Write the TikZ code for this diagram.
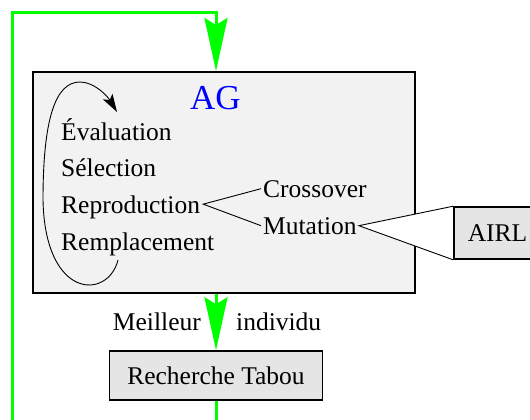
\documentclass[tikz,border=0pt]{standalone}
\usepackage{fontspec}
\setmainfont{Liberation Serif}
\usetikzlibrary{arrows.meta,calc}
\definecolor{boxgray}{HTML}{F2F2F2}
\definecolor{stepgray}{HTML}{E5E5E5}
\definecolor{loopgreen}{HTML}{00FF00}
\tikzset{
  txt/.style={inner sep=2pt, anchor=base west, font=\fontsize{25.5}{30}\selectfont},
  stepbox/.style={draw, line width=1.5pt, fill=stepgray, inner xsep=14pt, minimum height=50pt,
    font=\fontsize{25.5}{30}\selectfont},
  greenarrow/.style={loopgreen, line width=3pt, -{Stealth[length=53pt,width=23pt,inset=7pt]}},
}
\begin{document}
\begin{tikzpicture}[x=1pt,y=-1pt]
  \useasboundingbox (0,0) rectangle (530,420);
  \clip (0,0) rectangle (530,420);
  % AG block
  \node[draw, line width=2pt, fill=boxgray, minimum width=382pt, minimum height=221pt] (ag) at (224,182.5) {};
  \node[txt, blue, font=\fontsize{35}{40}\selectfont] (agtitle) at (188,110) {AG};
  \node[txt] (eval) at (59,140) {Évaluation};
  \node[txt] (sel) at (59,176.7) {Sélection};
  \node[txt] (repro) at (59,213.3) {Reproduction};
  \node[txt] (rempl) at (59,250) {Remplacement};
  \node[txt] (cross) at (261,197) {Crossover};
  \node[txt] (mut) at (261,234) {Mutation};
  % cycle of the steps
  \draw[line width=0.9pt, -{Stealth[length=18pt,width=11pt,inset=4pt]}]
    (118,260) .. controls (108,300) and (45,300) .. (43,200)
    .. controls (43,120) and (55,82) .. (80,82)
    .. controls (95,82) and (108,97) .. (117,112);
  \draw[line width=0.9pt] (cross.west) -- ($(repro.east)+(1,-3)$) -- (mut.west);
  % AIRL
  \node[stepbox, anchor=west, minimum height=52pt] (airl) at (453,233) {AIRL};
  \fill[white] (mut.east) -- (airl.north west) -- (airl.south west) -- cycle;
  \draw[line width=0.9pt] (airl.north west) -- (mut.east) -- (airl.south west);
  \node[stepbox, anchor=west, minimum height=52pt] at (453,233) {AIRL};
  % Recherche Tabou
  \node[stepbox, inner xsep=18pt, minimum height=49pt] (tabou) at (216,375.5) {Recherche Tabou};
  \node[txt, anchor=base east] (meil) at (203,330) {Meilleur};
  \node[txt] (indiv) at (234,330) {individu};
  \draw[greenarrow] (tabou |- ag.south) -- (tabou.north);
  % loop back
  \coordinate (corner) at (12,13);
  \coordinate (low) at (216,440);
  \draw[greenarrow] (tabou.south) -- (low) -| (corner) -| (tabou |- ag.north);
\end{tikzpicture}
\end{document}
